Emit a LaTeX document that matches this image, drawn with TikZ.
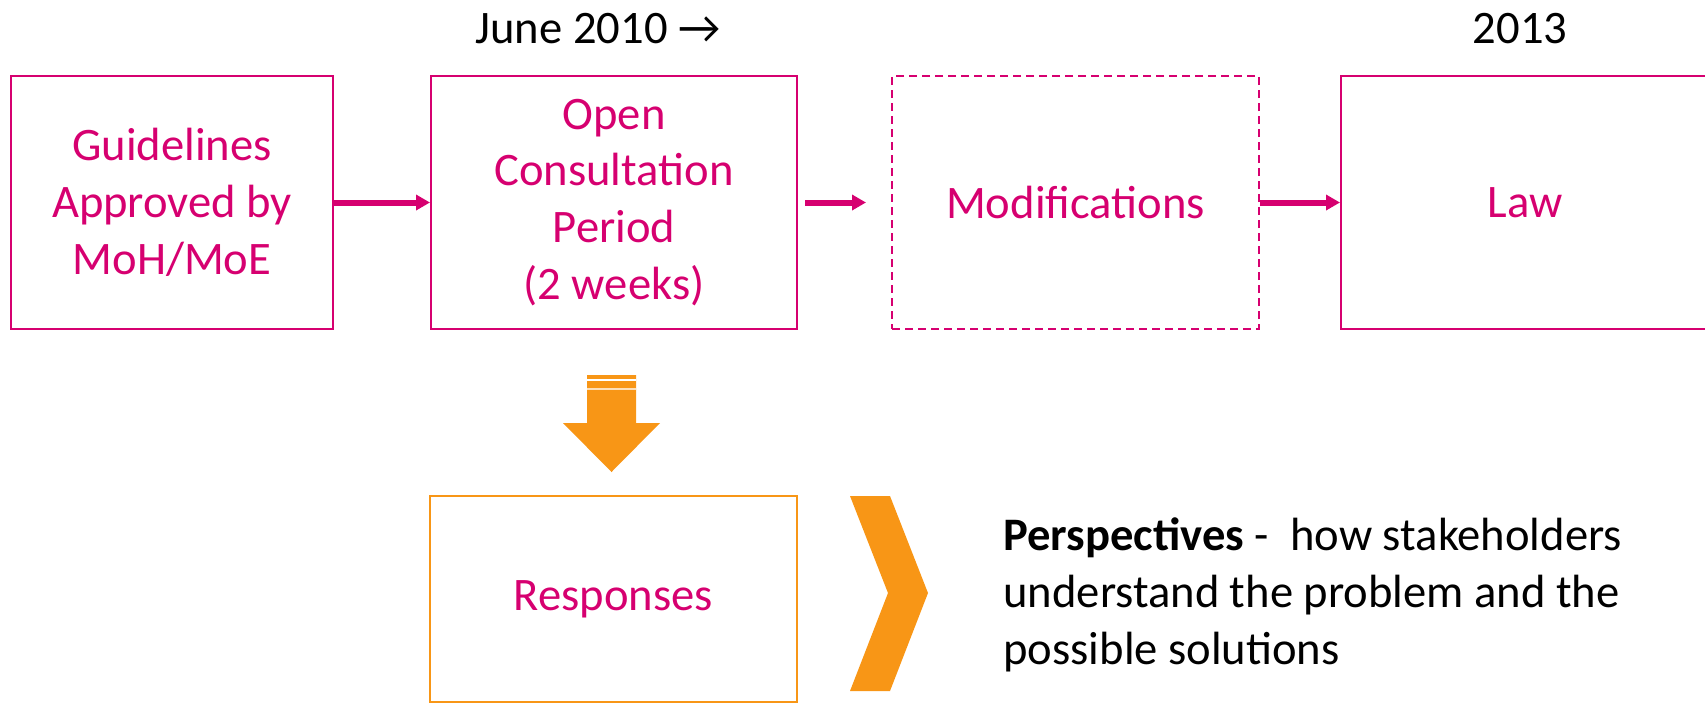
\documentclass[tikz,border=0pt]{standalone}
\usepackage{fontspec}
\setmainfont{Carlito}
\usetikzlibrary{arrows.meta}
\definecolor{rasp}{RGB}{214,0,112}
\definecolor{amber}{RGB}{248,150,22}

\begin{document}
\begin{tikzpicture}[x=0.5pt,y=-0.5pt,
    font=\fontsize{23.3}{28.4}\selectfont,
    stage/.style={draw=rasp,line width=1pt,text=rasp,align=center,
      minimum height=126.5pt,inner sep=0pt},
    flow/.style={draw=rasp,line width=3pt,-{Triangle[length=7pt,width=7.5pt]}}]
    \useasboundingbox (0,0) rectangle (1705,703);
    \clip (0,0) rectangle (1705,703);
    % top row of stages
    \node[stage,minimum width=161pt] (guide) at (172,202.5) {Guidelines\\Approved by\\MoH/MoE};
    \node[stage,minimum width=183pt] (consult) at (614,202.5) {Open\\Consultation\\Period\\(2 weeks)};
    \node[stage,minimum width=183.5pt,dash pattern=on 4pt off 2.5pt] (modif) at (1075.5,202.5) {Modifications};
    \node[stage,minimum width=184pt] (law) at (1525,202.5) {Law};
    \draw[flow] (guide) -- (consult);
    \draw[flow,shorten <=3.5pt,shorten >=12.5pt] (consult) -- (modif);
    \draw[flow] (modif) -- (law);
    % dates
    \node[anchor=base] (june) at (598,43) {June 2010 →};
    \node[anchor=base] (year) at (1520,43) {2013};
    % responses
    \fill[amber] (587,375) -- (636,375) -- (636,423) -- (660,423) -- (611.5,472)
      -- (563,423) -- (587,423) -- cycle;
    \draw[white,line width=0.6pt] (587,380) -- (636,380);
    \draw[white!70!amber,line width=0.6pt] (587,389) -- (636,389);
    \node[stage,draw=amber,line width=0.8pt,minimum width=183.5pt,minimum height=103pt] (resp) at (613.5,599) {Responses};
    \fill[amber] (850,496) -- (890,496) -- (928,593) -- (890,691) -- (850,691) -- (888,593) -- cycle;
    \node[anchor=base west,align=left,inner sep=0pt] (persp) at (1003,664)
      {\textbf{Perspectives} -\ \ how stakeholders\\understand the problem and the\\possible solutions};
\end{tikzpicture}
\end{document}
